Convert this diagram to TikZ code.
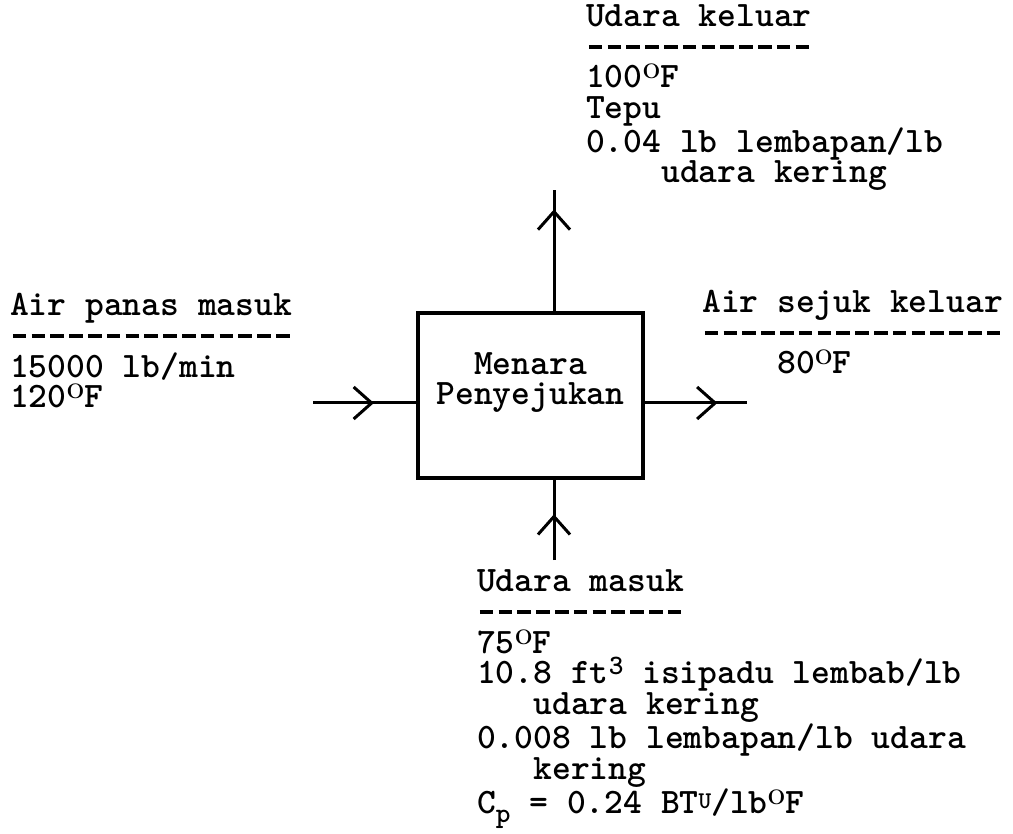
\documentclass[tikz,border=0pt]{standalone}
\usetikzlibrary{arrows.meta,decorations.markings}
\newcommand{\smallchar}[2]{\raisebox{#1}{\fontsize{28}{28}\selectfont #2}}
\newcommand{\degF}{\raisebox{9pt}{\fontsize{21}{21}\rmfamily\bfseries O}F}
\newcommand{\dashrow}[1]{\foreach \d in {1,...,#1}{\makebox[18.8pt][c]{\rule[8.5pt]{13.5pt}{3.5pt}}}}

\begin{document}
\begin{tikzpicture}[x=1pt, y=-1pt,
	every node/.style={font=\ttfamily\bfseries\fontsize{35.8}{30.8}\selectfont, inner sep=0pt},
	block/.style={align=left, anchor=base west},
	tower/.style={draw, line width=3.5pt, minimum width=225pt, minimum height=165pt, align=center, text depth=34pt},
	flow/.style={line width=3pt, postaction={decorate}, decoration={markings, mark=at position #1 with {\arrow{Straight Barb[length=18pt, width=32pt]}}}}]
	\useasboundingbox (0,0) rectangle (1013,834);
	\node[tower] (tower) at (530.5,395.5) {Menara\\Penyejukan};
	\node[block] (airout) at (586,183) {Udara keluar\\\dashrow{12}\\100\degF\\Tepu\\0.04 lb lembapan/lb\\~~~~udara kering};
	\node[block] (hotin) at (10,408) {Air panas masuk\\\dashrow{15}\\15000 lb/min\\120\degF};
	\node[block] (coldout) at (702,374) {Air sejuk keluar\\\dashrow{16}\\~~~~80\degF};
	\node[block] (airin) at (477,813) {Udara masuk\\\dashrow{11}\\75\degF\\10.8 ft\smallchar{9pt}{3} isipadu lembab/lb\\~~~udara kering\\0.008 lb lembapan/lb udara\\~~~kering\\C\smallchar{-9pt}{p} = 0.24 BT\raisebox{5pt}{\fontsize{24}{24}\selectfont U}/lb\degF};
	\coordinate (hotend) at (313,403);
	\coordinate (coldend) at (747,403);
	\coordinate (outend) at (554,190);
	\coordinate (inend) at (554,560);
	\draw[flow=0.59] (hotend) -- (hotend -| tower.west);
	\draw[flow=0.71] (coldend -| tower.east) -- (coldend);
	\draw[flow=0.84] (outend |- tower.north) -- (outend);
	\draw[flow=0.57] (inend) -- (inend |- tower.south);
\end{tikzpicture}
\end{document}
